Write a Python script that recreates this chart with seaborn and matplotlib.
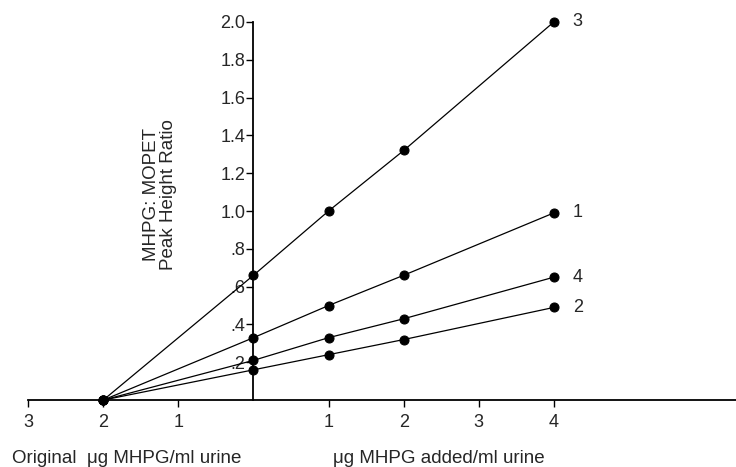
import matplotlib
matplotlib.use("Agg")
import matplotlib.pyplot as plt
import seaborn as sns
import pandas as pd

# values
added = [0, 1, 2, 4]
original_x = -2.0
series_names = ["3", "1", "4", "2"]
ratio_3 = [0.66, 1.00, 1.32, 2.00]
ratio_1 = [0.33, 0.50, 0.66, 0.99]
ratio_4 = [0.21, 0.33, 0.43, 0.65]
ratio_2 = [0.16, 0.24, 0.32, 0.49]

xtick_pos = [-3, -2, -1, 1, 2, 3, 4]
xtick_labels = ["3", "2", "1", "1", "2", "3", "4"]
ytick_pos = [0.2, 0.4, 0.6, 0.8, 1.0, 1.2, 1.4, 1.6, 1.8, 2.0]
ytick_labels = [".2", ".4", ".6", ".8", "1.0", "1.2", "1.4", "1.6", "1.8", "2.0"]

rows = []
for name, vals in zip(series_names, [ratio_3, ratio_1, ratio_4, ratio_2]):
    rows.append({"series": name, "x": original_x, "y": 0.0})
    for xv, yv in zip(added, vals):
        rows.append({"series": name, "x": xv, "y": yv})
df = pd.DataFrame(rows)

sns.set_theme(style="white")
plt.rcParams["font.family"] = ["Liberation Sans", "DejaVu Sans"]

fig = plt.figure(figsize=(7.36, 4.67), dpi=100)
ax = fig.add_axes([0, 0, 1, 1])

sns.lineplot(
    data=df, x="x", y="y", units="series", estimator=None,
    color="black", linewidth=0.9, marker="o", markersize=6.5,
    markeredgecolor="black", markerfacecolor="black", ax=ax, legend=False,
)

ax.set_xlim(-3.375, 6.425)
ax.set_ylim(-0.354, 2.116)

for side in ["top", "right"]:
    ax.spines[side].set_visible(False)
ax.spines["left"].set_position(("data", 0))
ax.spines["left"].set_bounds(0, 2.0)
ax.spines["bottom"].set_position(("data", 0))
ax.spines["bottom"].set_bounds(-3, 6.425)
for side in ["left", "bottom"]:
    ax.spines[side].set_color("black")
    ax.spines[side].set_linewidth(1.3)

ax.set_xticks(xtick_pos)
ax.set_xticklabels(xtick_labels)
ax.set_yticks(ytick_pos)
ax.set_yticklabels(ytick_labels)
ax.tick_params(axis="both", direction="out", length=5, width=1, color="black",
               labelsize=13, left=True, bottom=True)
ax.tick_params(axis="x", pad=5)
ax.tick_params(axis="y", pad=1)
ax.set_xlabel("")
ax.set_ylabel("")

# line labels at the right end
for name, vals in zip(series_names, [ratio_3, ratio_1, ratio_4, ratio_2]):
    ax.text(4.25, vals[-1], name, fontsize=13, va="center", ha="left")

ax.text(-1.25, 1.085, "MHPG: MOPET\nPeak Height Ratio", rotation=90,
        fontsize=13.5, ha="center", va="center", linespacing=1.0)
ax.text(-1.69, -0.31, "Original  \u03bcg MHPG/ml urine", fontsize=13.5,
        ha="center", va="center")
ax.text(2.47, -0.31, "\u03bcg MHPG added/ml urine", fontsize=13.5,
        ha="center", va="center")

fig.savefig("out.png", dpi=100)
